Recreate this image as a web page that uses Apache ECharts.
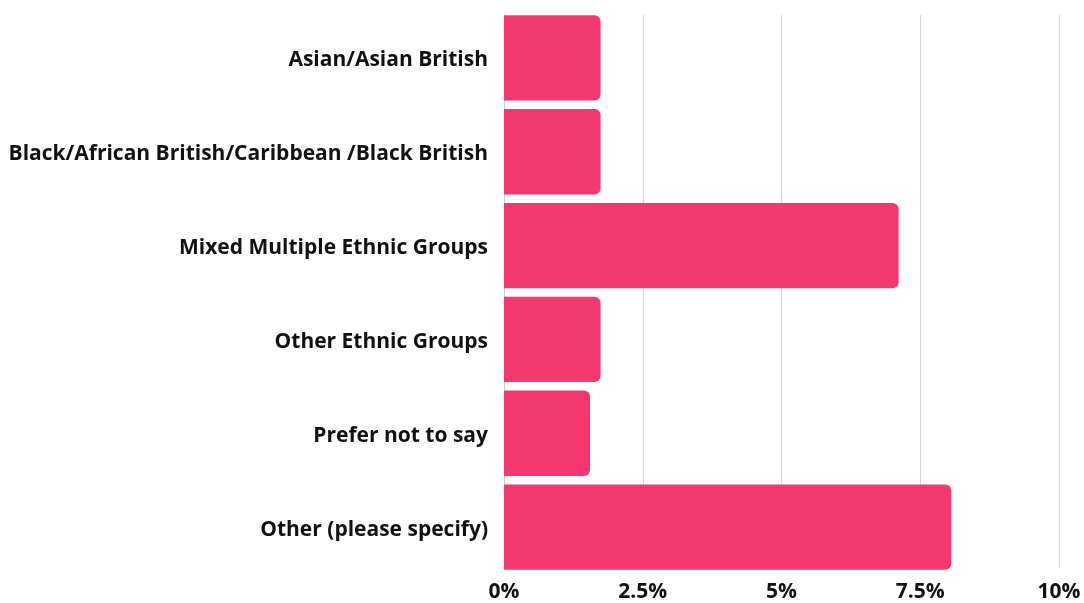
<!DOCTYPE html>
<html>
<head>
<meta charset="utf-8">
<script src="https://cdn.jsdelivr.net/npm/echarts@6/dist/echarts.min.js"></script>
<style>
  html, body { margin: 0; padding: 0; background: #ffffff; }
  #chart { width: 1084px; height: 603px; }
</style>
</head>
<body>
<div id="chart"></div>
<script>
// Ethnicity breakdown, share of respondents (%)
const categories = [
  'Asian/Asian British',
  'Black/African British/Caribbean /Black British',
  'Mixed Multiple Ethnic Groups',
  'Other Ethnic Groups',
  'Prefer not to say',
  'Other (please specify)'
];
const shares = [1.74, 1.74, 7.11, 1.74, 1.55, 8.06];
const tickLabels = { 0: '0%', 2.5: '2.5%', 5: '5%', 7.5: '7.5%', 10: '10%' };

const chart = echarts.init(document.getElementById('chart'), null, { renderer: 'canvas' });
const fontFamily = '"Open Sans", "Noto Sans", sans-serif';
const labelStyle = { color: '#111111', fontFamily: fontFamily, fontWeight: 'bold', fontSize: 21 };

chart.setOption({
  animation: false,
  // grid 0 lays out the bars; grid 1 carries the frame, gridlines and tick labels
  grid: [
    { left: 504, right: 25, top: 11, bottom: 29, containLabel: false },
    { left: 504, right: 25, top: 15, bottom: 34, containLabel: false }
  ],
  xAxis: [{
    gridIndex: 0, type: 'value', min: 0, max: 10, interval: 2.5,
    axisLine: { show: false }, axisTick: { show: false },
    splitLine: { show: false }, axisLabel: { show: false }
  }, {
    gridIndex: 1, type: 'value', min: 0, max: 10, interval: 2.5,
    axisLine: { show: false }, axisTick: { show: false },
    splitLine: { show: true, lineStyle: { color: '#d6d6d6', width: 1 } },
    axisLabel: Object.assign({}, labelStyle, {
      margin: 14,
      formatter: v => tickLabels[v] !== undefined ? tickLabels[v] : v + '%'
    })
  }],
  yAxis: [{
    gridIndex: 0, type: 'category', data: categories, inverse: true,
    axisLine: { show: false }, axisTick: { show: false },
    axisLabel: {
      margin: 16,
      formatter: v => '{l|' + v + '}',
      rich: { l: Object.assign({}, labelStyle, { padding: [5, 0, 0, 0] }) }
    }
  }, {
    gridIndex: 1, type: 'category', data: categories, inverse: true,
    axisLine: { show: true, lineStyle: { color: '#cccccc', width: 1 } },
    axisTick: { show: false }, axisLabel: { show: false }, splitLine: { show: false }
  }],
  series: [{
    type: 'bar',
    xAxisIndex: 0, yAxisIndex: 0,
    data: shares,
    barCategoryGap: '9%',
    itemStyle: { color: '#f2386f', borderRadius: [0, 6, 6, 0] },
    z: 3
  }]
});
</script>
</body>
</html>
